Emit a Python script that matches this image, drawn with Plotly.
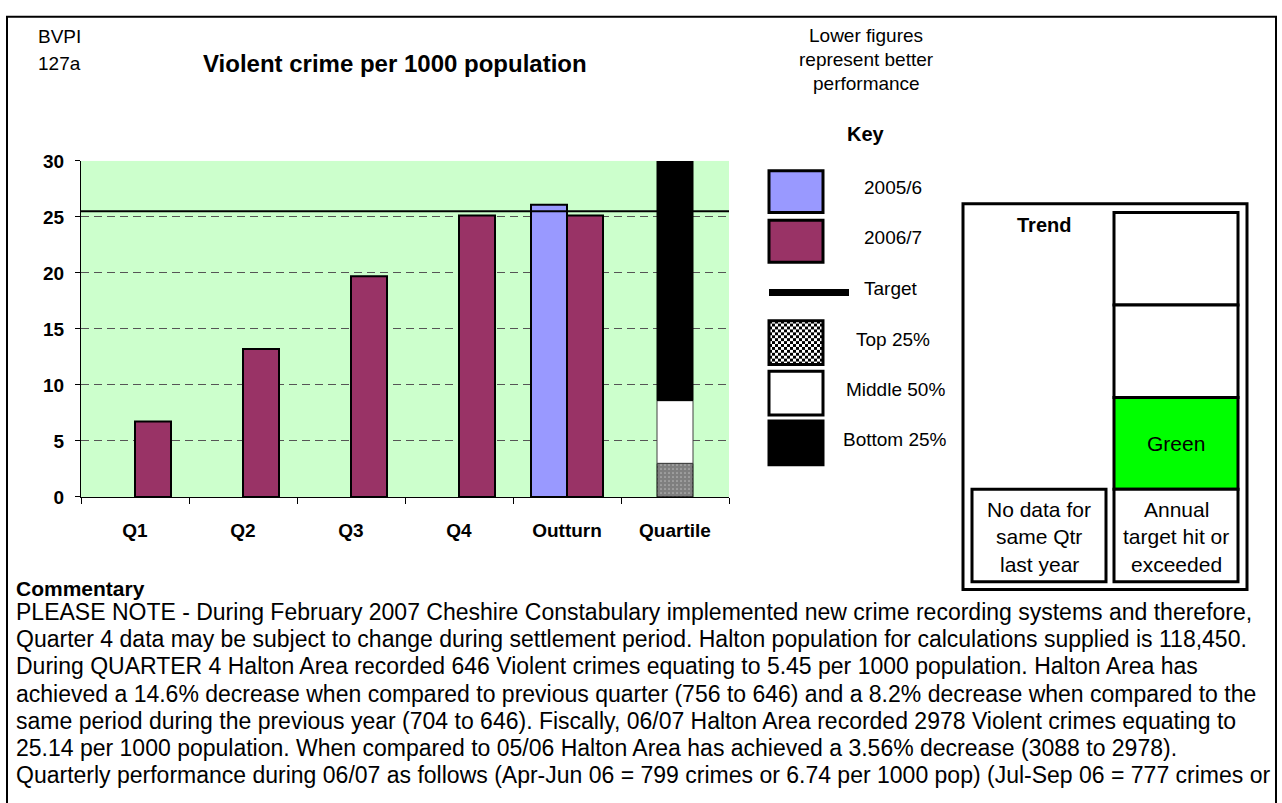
import plotly.graph_objects as go

W, H = 1282, 803

# ---- data ----
categories = ["Q1", "Q2", "Q3", "Q4", "Outturn", "Quartile"]
series_2005_6 = [None, None, None, None, 26.1, None]
series_2006_7 = [6.74, 13.2, 19.7, 25.14, 25.14, None]
target_value = 25.5
quartile_bounds = [0.0, 3.0, 8.6, 30.0]          # top 25% / middle 50% / bottom 25%
quartile_names = ["Top 25%", "Middle 50%", "Bottom 25%"]
y_ticks = [0, 5, 10, 15, 20, 25, 30]

commentary_lines = [
    "PLEASE NOTE - During February 2007 Cheshire Constabulary implemented new crime recording systems and therefore,",
    "Quarter 4 data may be subject to change during settlement period. Halton population for calculations supplied is 118,450.",
    "During QUARTER 4 Halton Area recorded 646 Violent crimes equating to 5.45 per 1000 population. Halton Area has",
    "achieved a 14.6% decrease when compared to previous quarter (756 to 646) and a 8.2% decrease when compared to the",
    "same period during the previous year (704 to 646). Fiscally, 06/07 Halton Area recorded 2978 Violent crimes equating to",
    "25.14 per 1000 population. When compared to 05/06 Halton Area has achieved a 3.56% decrease (3088 to 2978).",
    "Quarterly performance during 06/07 as follows (Apr-Jun 06 = 799 crimes or 6.74 per 1000 pop) (Jul-Sep 06 = 777 crimes or",
]

FONT = "Liberation Sans, Arial, sans-serif"
C_0506 = "#9999FF"
C_0607 = "#993366"


def px(x):
    return x / W


def py(y):
    return 1 - y / H


fig = go.Figure()
xs = list(range(len(categories)))
bw = 1 / 3

fig.add_trace(go.Bar(x=xs, y=series_2005_6, width=bw, offset=-bw,
                     marker=dict(color=C_0506, line=dict(color="black", width=2)),
                     name="2005/6"))
fig.add_trace(go.Bar(x=xs, y=series_2006_7, width=bw, offset=0,
                     marker=dict(color=C_0607, line=dict(color="black", width=2)),
                     name="2006/7"))

# quartile stack on the last category
q_idx = categories.index("Quartile")
q_styles = [
    dict(color="white", pattern=dict(shape=".", fgcolor="black", bgcolor="white", size=4, solidity=0.85),
         line=dict(color="black", width=1)),
    dict(color="white", line=dict(color="#404040", width=1)),
    dict(color="black", line=dict(color="black", width=1)),
]
for i, name in enumerate(quartile_names):
    lo, hi = quartile_bounds[i], quartile_bounds[i + 1]
    fig.add_trace(go.Bar(x=[q_idx], y=[hi - lo], base=[lo], width=bw, offset=-bw / 2,
                         marker=q_styles[i], name=name))

fig.add_trace(go.Scatter(x=[-0.5, len(categories) - 0.5], y=[target_value] * 2,
                         mode="lines", line=dict(color="black", width=2), name="Target"))

boundaries = [i - 0.5 for i in range(len(categories) + 1)]

fig.update_layout(
    width=W, height=H,
    margin=dict(l=0, r=0, t=0, b=0),
    paper_bgcolor="white",
    plot_bgcolor="#CCFFCC",
    barmode="overlay",
    showlegend=False,
    font=dict(family=FONT, color="black"),
    xaxis=dict(
        domain=[px(81), px(729)], range=[-0.5, len(categories) - 0.5],
        tickvals=xs, ticktext=categories, ticks="",
        showgrid=False, zeroline=False,
        showline=True, linecolor="black", linewidth=1,
        tickfont=dict(family=FONT, size=19, weight="bold"),
        ticklabelstandoff=16,
        minor=dict(tickvals=boundaries, ticks="outside", ticklen=6, tickcolor="black", tickwidth=1),
    ),
    yaxis=dict(
        domain=[py(500), py(155)], range=[0, 30], tickvals=y_ticks,
        ticks="outside", ticklen=5, tickcolor="black",
        showline=True, linecolor="black", linewidth=1, zeroline=False,
        showgrid=True, gridcolor="#555555", griddash="8px,5px", gridwidth=1,
        tickfont=dict(family=FONT, size=19, weight="bold"),
        ticklabelstandoff=7,
    ),
)

shapes = []
annotations = []


def rect(x0, y0, x1, y1, fill="rgba(0,0,0,0)", lw=2, lc="black"):
    shapes.append(dict(type="rect", xref="paper", yref="paper",
                       x0=px(x0), x1=px(x1), y0=py(y1), y1=py(y0),
                       fillcolor=fill, line=dict(color=lc, width=lw), layer="above"))


def text(x, y, s, size=19, bold=False, xanchor="center"):
    annotations.append(dict(xref="paper", yref="paper", x=px(x), y=py(y), text=s,
                            showarrow=False, xanchor=xanchor, yanchor="middle",
                            font=dict(family=FONT, size=size, color="black",
                                      weight="bold" if bold else "normal")))


# outer frame
rect(7, 7, 1276, 900, lw=2)

# header texts
text(36, 27, "BVPI", size=19, xanchor="left")
text(36, 55, "127a", size=19, xanchor="left")
text(395, 55, "Violent crime per 1000 population", size=24, bold=True)
text(866, 26, "Lower figures", size=19)
text(866, 51, "represent better", size=19)
text(866, 75, "performance", size=19)
text(866, 127, "Key", size=20, bold=True)

# key swatches
rect(769, 165, 823, 208, fill=C_0506, lw=3)
rect(769, 216, 823, 259, fill=C_0607, lw=3)
shapes.append(dict(type="line", xref="paper", yref="paper", x0=px(769), x1=px(849),
                   y0=py(290), y1=py(290), line=dict(color="black", width=7)))
# checkered swatch
cs = 3
for r in range(0, 45 // cs):
    for c in range(0, 54 // cs):
        if (r + c) % 2 == 0:
            shapes.append(dict(type="rect", xref="paper", yref="paper",
                               x0=px(769 + c * cs), x1=px(769 + (c + 1) * cs),
                               y0=py(319 + (r + 1) * cs), y1=py(319 + r * cs),
                               fillcolor="black", line=dict(width=0)))
rect(769, 319, 823, 364, lw=3)
rect(769, 371, 823, 416, fill="white", lw=3)
rect(769, 422, 823, 467, fill="black", lw=3)

text(893, 182, "2005/6")
text(893, 234, "2006/7")
text(891, 286, "Target")
text(893, 338, "Top 25%")
text(895, 390, "Middle 50%")
text(895, 441, "Bottom 25%")

# trend panel
rect(963, 199, 1247, 595, lw=3)
text(1044, 221, "Trend", size=20, bold=True)
rect(1114, 208, 1238, 303, fill="white", lw=3)
rect(1114, 303, 1238, 398, fill="white", lw=3)
rect(1114, 398, 1238, 492, fill="#00FF00", lw=3)
rect(1114, 492, 1238, 587, fill="white", lw=3)
rect(972, 492, 1106, 587, fill="white", lw=3)
text(1176, 445, "Green", size=21)
for i, s in enumerate(["No data for", "same Qtr", "last year"]):
    text(1039, 513 + i * 28, s, size=21)
for i, s in enumerate(["Annual", "target hit or", "exceeded"]):
    text(1176, 513 + i * 28, s, size=21)

# commentary
text(14, 594, "Commentary", size=21, bold=True, xanchor="left")
for i, line in enumerate(commentary_lines):
    text(14, 618 + i * 28, line, size=23, xanchor="left")

fig.update_layout(shapes=shapes, annotations=annotations)
fig.write_html("out.html")
